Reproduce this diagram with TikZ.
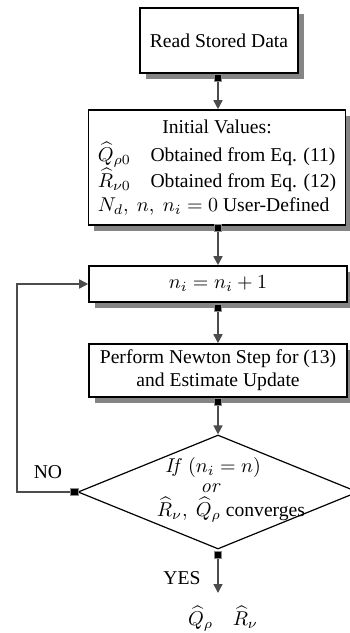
\documentclass[tikz,border=0pt]{standalone}
\usepackage[no-math]{fontspec}
\setmainfont{Liberation Serif}
\usetikzlibrary{shapes.geometric,shadows,arrows.meta,calc}
\begin{document}
\begin{tikzpicture}[x=0.5pt,y=-0.5pt,
  every node/.style={font=\fontsize{9.8pt}{11.5pt}\selectfont},
  boxnode/.style={draw=black, line width=0.8pt, fill=white, inner sep=0pt, align=center,
    drop shadow={shadow xshift=2.8pt, shadow yshift=-2.8pt, fill=black!48, opacity=1}},
  decnode/.style={draw=black, line width=0.6pt, diamond, inner sep=0pt,
    minimum width=140pt, minimum height=57pt},
  sq/.style={rectangle, fill=black, draw=black!45, line width=0.5pt, minimum size=3.6pt, inner sep=0pt},
  conn/.style={draw=black!70, line width=0.8pt, -{Triangle[length=4.5pt,width=4.5pt]}},
  lbl/.style={inner sep=0pt}
]
\useasboundingbox (0,0) rectangle (349,633);

\node[boxnode, minimum width=79pt, minimum height=32.5pt] (b1) at (219,40.5) {Read Stored Data};
\node[boxnode, minimum width=128.5pt, minimum height=57.5pt] (b2) at (217,167.5)
  {\begin{tabular}{@{}l@{}}
   \multicolumn{1}{@{}c@{}}{Initial Values:}\\[1.2pt]
   $\widehat{Q}_{\rho0}$\quad Obtained from Eq. (11)\\[-0.5pt]
   $\widehat{R}_{\nu0}$\quad Obtained from Eq. (12)\\[0.5pt]
   $N_d,\ n,\ n_i=0$ User-Defined
   \end{tabular}};
\node[boxnode, minimum width=129pt, minimum height=18pt] (b3) at (218,284) {$n_i=n_i+1$};
\node[boxnode, minimum width=129pt, minimum height=26.5pt] (b4) at (218,370.5)
  {Perform Newton Step for (13)\\and Estimate Update};
\node[decnode] (dia) at (218,492) {};
\node[lbl] (d1) at (213,467) {$\mathit{If}\ (n_i=n)$};
\node[lbl] (d2) at (211,488) {$\mathit{or}$};
\node[lbl] (d3) at (231,510) {$\widehat{R}_\nu,\ \widehat{Q}_\rho$ converges};

\node[lbl] (no) at (48,472) {NO};
\node[lbl] (yes) at (182,578) {YES};
\node[inner xsep=0pt, inner ysep=6.5pt, anchor=north] (out) at (223,593) {$\widehat{Q}_\rho\quad\widehat{R}_\nu$};

\node[sq] (s1) at ($(b1.south)+(-1,4.5)$) {};
\node[sq] (s2) at ($(b2.south)+(1,2)$) {};
\node[sq] (s3) at ($(b3.south)+(0,5.5)$) {};
\node[sq] (s4) at ($(b4.south)+(0,4)$) {};
\node[sq] (s5) at ($(dia.west)+(-3,0)$) {};
\node[sq] (s6) at ($(dia.south)+(0,5)$) {};

\coordinate (lp) at (17,284);

\draw[conn] (s1.south) -- (b2.north -| s1);
\draw[conn] (s2.south) -- (b3.north -| s2);
\draw[conn] (s3.south) -- (b4.north);
\draw[conn] (s4.south) -- (dia.north);
\draw[conn] (s5.west) -| (lp) -- (b3.west);
\draw[conn] (s6.south) -- (out.north -| s6);
\end{tikzpicture}
\end{document}
